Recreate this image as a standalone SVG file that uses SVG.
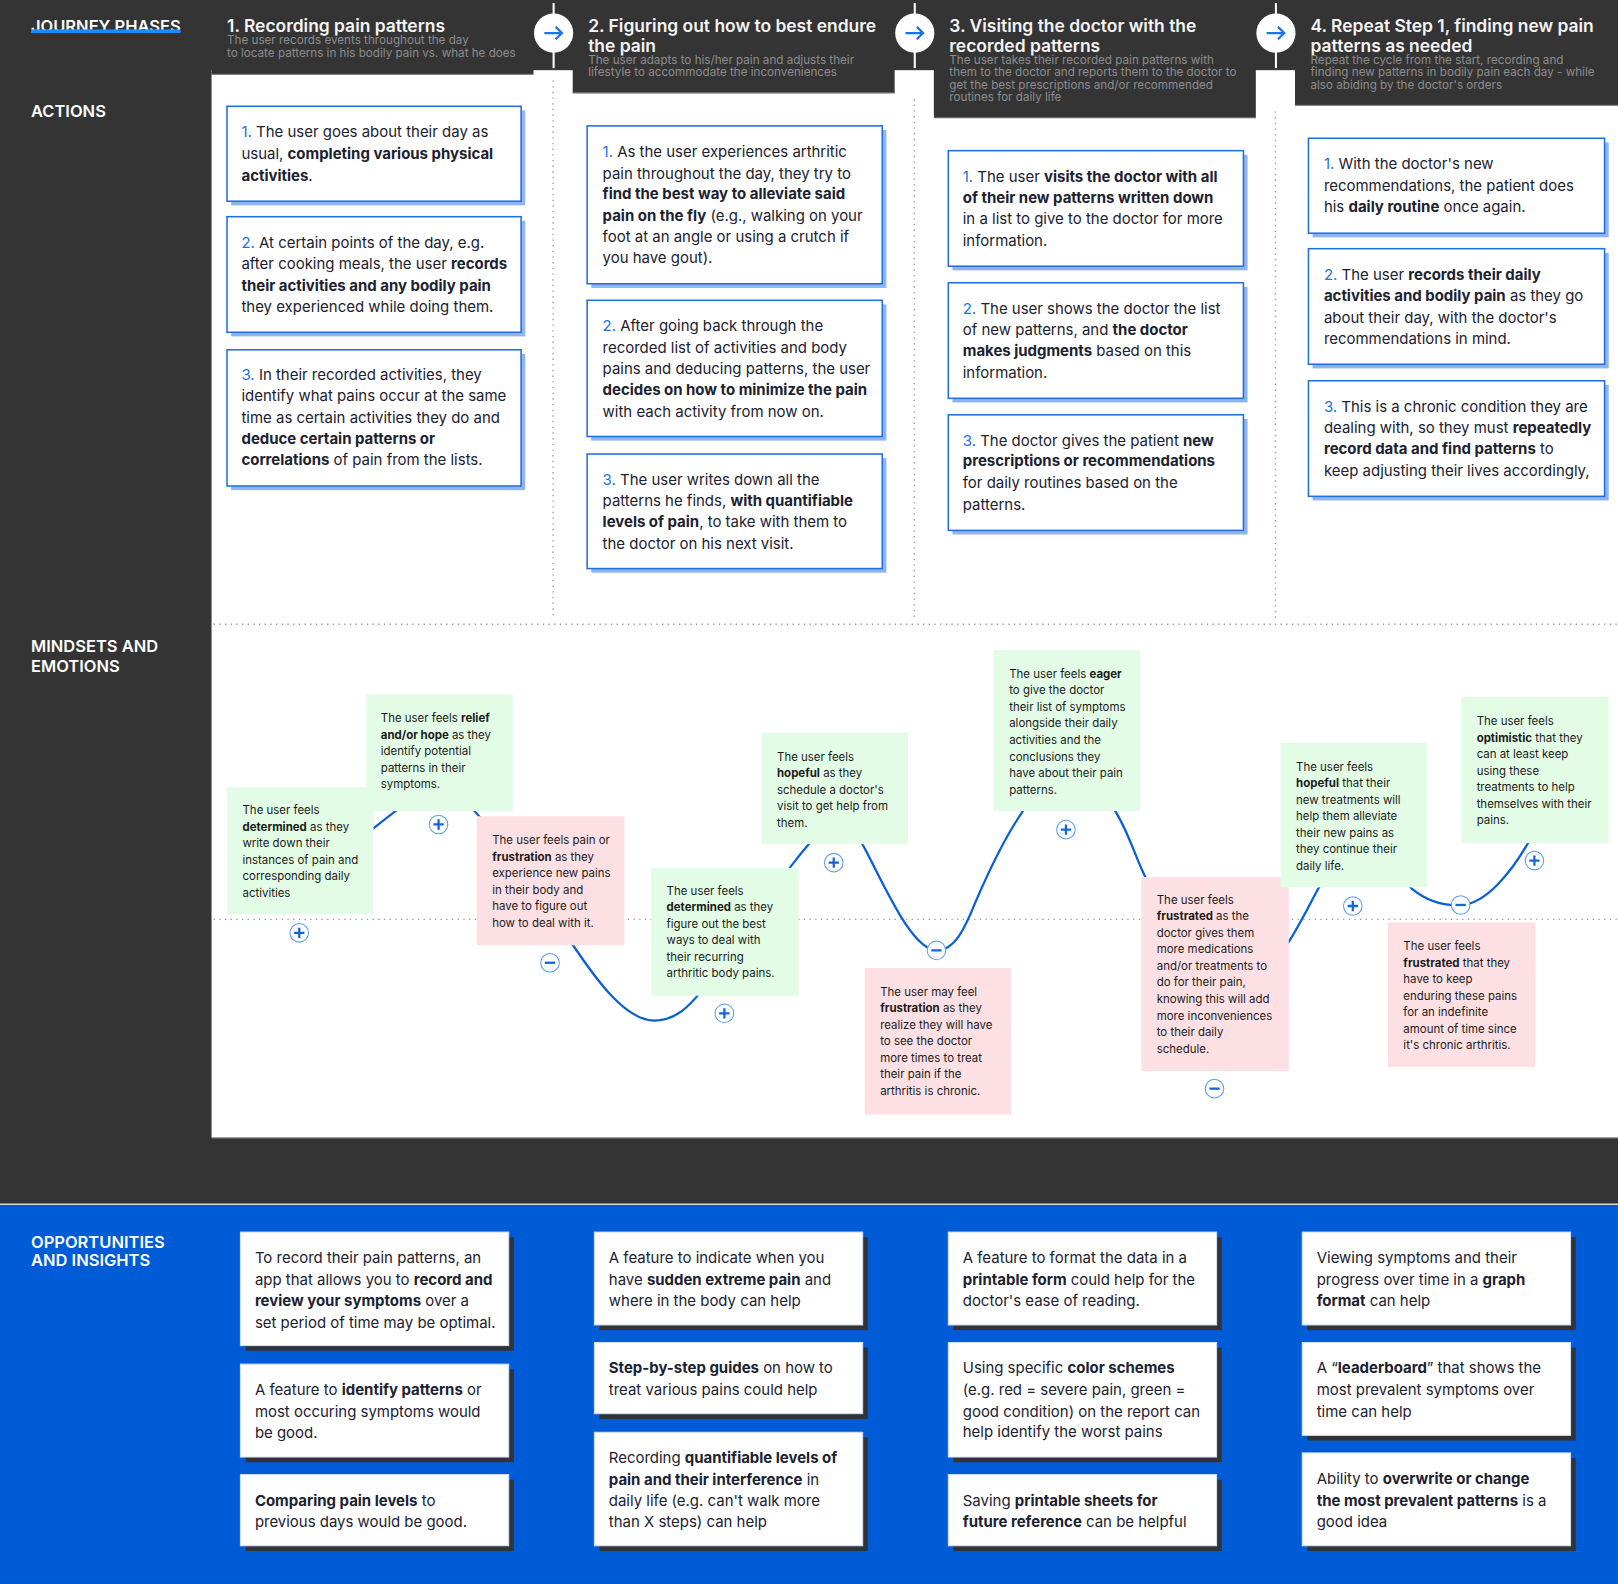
<svg xmlns="http://www.w3.org/2000/svg" width="1618" height="1584" viewBox="0 0 1618 1584">
<style>
text{font-family:Inter,"Liberation Sans",sans-serif}
.hd{font-size:16.9px;font-weight:600;fill:#f4f4f4}
.sub{font-size:11.3px;fill:#8c8c8c}
.lbl{font-size:16px;font-weight:600;fill:#fff}
.act{font-size:14.5px;fill:#1c2230}
.num{fill:#1a73e8}
.b{font-weight:700}
.emo{font-size:11.1px;fill:#1a1a1a}
.card{fill:#fff;stroke:#1f6fe0;stroke-width:1.5}
.cshadow{fill:#8fb4ee}
.green{fill:#e3fce5}
.pink{fill:#fde0e3}
.ocard{fill:#fff;stroke:#cfe0fb;stroke-width:1}
.oshadow{fill:#333}
.dot{stroke:#9a9a9a;stroke-width:1.3;stroke-dasharray:1.3 4.2;fill:none}
.pm{fill:#fff;stroke:#5b9cf0;stroke-width:1}
.pms{stroke:#1466d8;stroke-width:2.2;fill:none}
.hbox{fill:#343434}
</style>
<defs>
<g id="plus"><circle class="pm" r="9"/><path class="pms" d="M-5 0H5M0-5V5"/></g>
<g id="minus"><circle class="pm" r="9"/><path class="pms" d="M-5 0H5"/></g>
<g id="arrowc"><circle r="19" fill="#fff"/><path d="M-9 0H8M2-6L8 0L2 6" stroke="#1a73e8" stroke-width="2.2" fill="none"/></g>
</defs>
<rect width="1618" height="1584" fill="#343434"/>
<g transform="scale(1.03189)">
<!-- white panel -->
<rect x="205" y="68" width="1363" height="1034" fill="#fff"/>
<line x1="205" y1="1102.5" x2="1568" y2="1102.5" stroke="#bbb" stroke-width="1"/>
<!-- blue section -->
<rect x="0" y="1167" width="1568" height="368" fill="#005bd6"/>
<line x1="0" y1="1167" x2="1568" y2="1167" stroke="#d8d8d8" stroke-width="1.5"/>

<!-- header boxes -->
<g id="phase1">
<rect class="hbox" x="205" y="0" width="312" height="72"/>
<line x1="205" y1="72" x2="517" y2="72" stroke="#6a6a6a" stroke-width="1"/>
<text class="hd" x="220" y="31">1. Recording pain patterns</text>
<text class="sub" x="220" y="43">The user records events throughout the day</text>
<text class="sub" x="220" y="55">to locate patterns in his bodily pain vs. what he does</text>
</g>
<g id="phase2">
<rect class="hbox" x="555" y="0" width="312" height="90"/>
<line x1="555" y1="90" x2="867" y2="90" stroke="#6a6a6a" stroke-width="1"/>
<text class="hd" x="570" y="31">2. Figuring out how to best endure</text>
<text class="hd" x="570" y="50">the pain</text>
<text class="sub" x="570" y="62">The user adapts to his/her pain and adjusts their</text>
<text class="sub" x="570" y="74">lifestyle to accommodate the inconveniences</text>
</g>
<g id="phase3">
<rect class="hbox" x="905" y="0" width="312" height="114"/>
<line x1="905" y1="114" x2="1217" y2="114" stroke="#6a6a6a" stroke-width="1"/>
<text class="hd" x="920" y="31">3. Visiting the doctor with the</text>
<text class="hd" x="920" y="50">recorded patterns</text>
<text class="sub" x="920" y="62">The user takes their recorded pain patterns with</text>
<text class="sub" x="920" y="74">them to the doctor and reports them to the doctor to</text>
<text class="sub" x="920" y="86">get the best prescriptions and/or recommended</text>
<text class="sub" x="920" y="98">routines for daily life</text>
</g>
<g id="phase4">
<rect class="hbox" x="1255" y="0" width="313" height="102"/>
<line x1="1255" y1="102" x2="1568" y2="102" stroke="#6a6a6a" stroke-width="1"/>
<text class="hd" x="1270" y="31">4. Repeat Step 1, finding new pain</text>
<text class="hd" x="1270" y="50">patterns as needed</text>
<text class="sub" x="1270" y="62">Repeat the cycle from the start, recording and</text>
<text class="sub" x="1270" y="74">finding new patterns in bodily pain each day - while</text>
<text class="sub" x="1270" y="86">also abiding by the doctor's orders</text>
</g>

<!-- row labels -->
<g id="labels">
<text class="lbl" x="30" y="31">JOURNEY PHASES</text>
<rect x="30" y="28.5" width="145" height="3.5" fill="#1a8cff"/>
<text class="lbl" x="30" y="113">ACTIONS</text>
<text class="lbl" x="30" y="632">MINDSETS AND</text>
<text class="lbl" x="30" y="651">EMOTIONS</text>
<text class="lbl" x="30" y="1209">OPPORTUNITIES</text>
<text class="lbl" x="30" y="1227">AND INSIGHTS</text>
</g>

<!-- connectors / separators -->
<g id="connectors">
<line class="dot" x1="536" y1="78" x2="536" y2="600"/>
<line class="dot" x1="886" y1="96" x2="886" y2="600"/>
<line class="dot" x1="1236" y1="108" x2="1236" y2="600"/>
<line class="dot" x1="207" y1="605" x2="1568" y2="605"/>
<line class="dot" x1="207" y1="891" x2="1568" y2="891"/>
<line x1="536.5" y1="3" x2="536.5" y2="66" stroke="#fff" stroke-width="2"/>
<line x1="886.5" y1="3" x2="886.5" y2="66" stroke="#fff" stroke-width="2"/>
<line x1="1236.5" y1="3" x2="1236.5" y2="66" stroke="#fff" stroke-width="2"/>
<use href="#arrowc" x="536.5" y="32"/>
<use href="#arrowc" x="886.5" y="32"/>
<use href="#arrowc" x="1236.5" y="32"/>
<path id="emotion-curve" fill="none" stroke="#0a5fd6" stroke-width="2.2" d="M 335 826 C 350 812, 370 796, 390 781 C 410 766, 440 768, 457 783 C 475 800, 530 880, 556 917 C 575 945, 605 989, 634 989 C 655 989, 668 975, 680 960 C 720 910, 750 860, 770 835 C 785 815, 800 800, 810 800 C 825 800, 832 810, 840 826 C 860 865, 885 921, 908 921 C 925 921, 935 900, 945 875 C 960 840, 975 810, 990 788 C 1010 750, 1060 750, 1082 788 C 1095 810, 1100 830, 1110 850 C 1140 920, 1200 990, 1250 911 C 1260 895, 1270 875, 1277 862 C 1300 820, 1350 840, 1369 862 C 1385 875, 1400 878, 1416 877 C 1440 876, 1465 845, 1482 815"/>
</g>

<!-- ACTION CARDS -->
<g id="a1-1"><rect class="cshadow" x="224" y="107" width="285" height="92"/><rect class="card" x="220" y="103" width="285" height="92"/>
<text class="act" x="234" y="133"><tspan class="num">1.</tspan> The user goes about their day as</text>
<text class="act" x="234" y="154">usual, <tspan class="b">completing various physical</tspan></text>
<text class="act" x="234" y="175"><tspan class="b">activities</tspan>.</text></g>
<g id="a1-2"><rect class="cshadow" x="224" y="214" width="285" height="112"/><rect class="card" x="220" y="210" width="285" height="112"/>
<text class="act" x="234" y="240"><tspan class="num">2.</tspan> At certain points of the day, e.g.</text>
<text class="act" x="234" y="261">after cooking meals, the user <tspan class="b">records</tspan></text>
<text class="act" x="234" y="282"><tspan class="b">their activities and any bodily pain</tspan></text>
<text class="act" x="234" y="302">they experienced while doing them.</text></g>
<g id="a1-3"><rect class="cshadow" x="224" y="343" width="285" height="132"/><rect class="card" x="220" y="339" width="285" height="132"/>
<text class="act" x="234" y="368"><tspan class="num">3.</tspan> In their recorded activities, they</text>
<text class="act" x="234" y="389">identify what pains occur at the same</text>
<text class="act" x="234" y="410">time as certain activities they do and</text>
<text class="act" x="234" y="430"><tspan class="b">deduce certain patterns or</tspan></text>
<text class="act" x="234" y="451"><tspan class="b">correlations</tspan> of pain from the lists.</text></g>

<g id="a2-1"><rect class="cshadow" x="573" y="126" width="286" height="153"/><rect class="card" x="569" y="122" width="286" height="153"/>
<text class="act" x="584" y="152"><tspan class="num">1.</tspan> As the user experiences arthritic</text>
<text class="act" x="584" y="173">pain throughout the day, they try to</text>
<text class="act" x="584" y="193"><tspan class="b">find the best way to alleviate said</tspan></text>
<text class="act" x="584" y="214"><tspan class="b">pain on the fly</tspan> (e.g., walking on your</text>
<text class="act" x="584" y="235">foot at an angle or using a crutch if</text>
<text class="act" x="584" y="255">you have gout).</text></g>
<g id="a2-2"><rect class="cshadow" x="573" y="295" width="286" height="132"/><rect class="card" x="569" y="291" width="286" height="132"/>
<text class="act" x="584" y="321"><tspan class="num">2.</tspan> After going back through the</text>
<text class="act" x="584" y="342">recorded list of activities and body</text>
<text class="act" x="584" y="362">pains and deducing patterns, the user</text>
<text class="act" x="584" y="383"><tspan class="b">decides on how to minimize the pain</tspan></text>
<text class="act" x="584" y="404">with each activity from now on.</text></g>
<g id="a2-3"><rect class="cshadow" x="573" y="444" width="286" height="111"/><rect class="card" x="569" y="440" width="286" height="111"/>
<text class="act" x="584" y="470"><tspan class="num">3.</tspan> The user writes down all the</text>
<text class="act" x="584" y="490">patterns he finds, <tspan class="b">with quantifiable</tspan></text>
<text class="act" x="584" y="511"><tspan class="b">levels of pain</tspan>, to take with them to</text>
<text class="act" x="584" y="532">the doctor on his next visit.</text></g>

<g id="a3-1"><rect class="cshadow" x="923" y="150" width="286" height="112"/><rect class="card" x="919" y="146" width="286" height="112"/>
<text class="act" x="933" y="176"><tspan class="num">1.</tspan> The user <tspan class="b">visits the doctor with all</tspan></text>
<text class="act" x="933" y="197"><tspan class="b">of their new patterns written down</tspan></text>
<text class="act" x="933" y="217">in a list to give to the doctor for more</text>
<text class="act" x="933" y="238">information.</text></g>
<g id="a3-2"><rect class="cshadow" x="923" y="278" width="286" height="112"/><rect class="card" x="919" y="274" width="286" height="112"/>
<text class="act" x="933" y="304"><tspan class="num">2.</tspan> The user shows the doctor the list</text>
<text class="act" x="933" y="325">of new patterns, and <tspan class="b">the doctor</tspan></text>
<text class="act" x="933" y="345"><tspan class="b">makes judgments</tspan> based on this</text>
<text class="act" x="933" y="366">information.</text></g>
<g id="a3-3"><rect class="cshadow" x="923" y="406" width="286" height="112"/><rect class="card" x="919" y="402" width="286" height="112"/>
<text class="act" x="933" y="432"><tspan class="num">3.</tspan> The doctor gives the patient <tspan class="b">new</tspan></text>
<text class="act" x="933" y="452"><tspan class="b">prescriptions or recommendations</tspan></text>
<text class="act" x="933" y="473">for daily routines based on the</text>
<text class="act" x="933" y="494">patterns.</text></g>

<g id="a4-1"><rect class="cshadow" x="1272" y="138" width="287" height="92"/><rect class="card" x="1268" y="134" width="287" height="92"/>
<text class="act" x="1283" y="164"><tspan class="num">1.</tspan> With the doctor's new</text>
<text class="act" x="1283" y="185">recommendations, the patient does</text>
<text class="act" x="1283" y="205">his <tspan class="b">daily routine</tspan> once again.</text></g>
<g id="a4-2"><rect class="cshadow" x="1272" y="245" width="287" height="112"/><rect class="card" x="1268" y="241" width="287" height="112"/>
<text class="act" x="1283" y="271"><tspan class="num">2.</tspan> The user <tspan class="b">records their daily</tspan></text>
<text class="act" x="1283" y="292"><tspan class="b">activities and bodily pain</tspan> as they go</text>
<text class="act" x="1283" y="313">about their day, with the doctor's</text>
<text class="act" x="1283" y="333">recommendations in mind.</text></g>
<g id="a4-3"><rect class="cshadow" x="1272" y="373" width="287" height="112"/><rect class="card" x="1268" y="369" width="287" height="112"/>
<text class="act" x="1283" y="399"><tspan class="num">3.</tspan> This is a chronic condition they are</text>
<text class="act" x="1283" y="420">dealing with, so they must <tspan class="b">repeatedly</tspan></text>
<text class="act" x="1283" y="440"><tspan class="b">record data and find patterns</tspan> to</text>
<text class="act" x="1283" y="461">keep adjusting their lives accordingly,</text></g>

<!-- EMOTION NOTES -->
<g id="e1"><rect class="green" x="220" y="763" width="142" height="123"/>
<text class="emo" x="235" y="789">The user feels</text>
<text class="emo" x="235" y="805"><tspan class="b">determined</tspan> as they</text>
<text class="emo" x="235" y="821">write down their</text>
<text class="emo" x="235" y="837">instances of pain and</text>
<text class="emo" x="235" y="853">corresponding daily</text>
<text class="emo" x="235" y="869">activities</text>
<use href="#plus" x="290" y="904"/></g>
<g id="e2"><rect class="green" x="355" y="673" width="142" height="113"/>
<text class="emo" x="369" y="700">The user feels <tspan class="b">relief</tspan></text>
<text class="emo" x="369" y="716"><tspan class="b">and/or hope</tspan> as they</text>
<text class="emo" x="369" y="732">identify potential</text>
<text class="emo" x="369" y="748">patterns in their</text>
<text class="emo" x="369" y="764">symptoms.</text>
<use href="#plus" x="425" y="799"/></g>
<g id="e3"><rect class="pink" x="462" y="791" width="143" height="125"/>
<text class="emo" x="477" y="818">The user feels pain or</text>
<text class="emo" x="477" y="834"><tspan class="b">frustration</tspan> as they</text>
<text class="emo" x="477" y="850">experience new pains</text>
<text class="emo" x="477" y="866">in their body and</text>
<text class="emo" x="477" y="882">have to figure out</text>
<text class="emo" x="477" y="898">how to deal with it.</text>
<use href="#minus" x="533" y="933"/></g>
<g id="e4"><rect class="green" x="631" y="841" width="143" height="124"/>
<text class="emo" x="646" y="867">The user feels</text>
<text class="emo" x="646" y="883"><tspan class="b">determined</tspan> as they</text>
<text class="emo" x="646" y="899">figure out the best</text>
<text class="emo" x="646" y="915">ways to deal with</text>
<text class="emo" x="646" y="931">their recurring</text>
<text class="emo" x="646" y="947">arthritic body pains.</text>
<use href="#plus" x="702" y="982"/></g>
<g id="e5"><rect class="green" x="738" y="710" width="142" height="108"/>
<text class="emo" x="753" y="737">The user feels</text>
<text class="emo" x="753" y="753"><tspan class="b">hopeful</tspan> as they</text>
<text class="emo" x="753" y="769">schedule a doctor's</text>
<text class="emo" x="753" y="785">visit to get help from</text>
<text class="emo" x="753" y="801">them.</text>
<use href="#plus" x="808" y="836"/></g>
<g id="e6"><rect class="pink" x="838" y="938" width="142" height="142"/>
<text class="emo" x="853" y="965">The user may feel</text>
<text class="emo" x="853" y="981"><tspan class="b">frustration</tspan> as they</text>
<text class="emo" x="853" y="997">realize they will have</text>
<text class="emo" x="853" y="1013">to see the doctor</text>
<text class="emo" x="853" y="1029">more times to treat</text>
<text class="emo" x="853" y="1045">their pain if the</text>
<text class="emo" x="853" y="1061">arthritis is chronic.</text>
<use href="#minus" x="907.5" y="921"/></g>
<g id="e7"><rect class="green" x="963" y="630" width="142" height="156"/>
<text class="emo" x="978" y="657">The user feels <tspan class="b">eager</tspan></text>
<text class="emo" x="978" y="673">to give the doctor</text>
<text class="emo" x="978" y="689">their list of symptoms</text>
<text class="emo" x="978" y="705">alongside their daily</text>
<text class="emo" x="978" y="721">activities and the</text>
<text class="emo" x="978" y="737">conclusions they</text>
<text class="emo" x="978" y="753">have about their pain</text>
<text class="emo" x="978" y="769">patterns.</text>
<use href="#plus" x="1033" y="804"/></g>
<g id="e8"><rect class="pink" x="1106" y="850" width="143" height="188"/>
<text class="emo" x="1121" y="876">The user feels</text>
<text class="emo" x="1121" y="892"><tspan class="b">frustrated</tspan> as the</text>
<text class="emo" x="1121" y="908">doctor gives them</text>
<text class="emo" x="1121" y="924">more medications</text>
<text class="emo" x="1121" y="940">and/or treatments to</text>
<text class="emo" x="1121" y="956">do for their pain,</text>
<text class="emo" x="1121" y="972">knowing this will add</text>
<text class="emo" x="1121" y="988">more inconveniences</text>
<text class="emo" x="1121" y="1004">to their daily</text>
<text class="emo" x="1121" y="1020">schedule.</text>
<use href="#minus" x="1177" y="1055"/></g>
<g id="e9"><rect class="green" x="1241" y="720" width="142" height="140"/>
<text class="emo" x="1256" y="747">The user feels</text>
<text class="emo" x="1256" y="763"><tspan class="b">hopeful</tspan> that their</text>
<text class="emo" x="1256" y="779">new treatments will</text>
<text class="emo" x="1256" y="795">help them alleviate</text>
<text class="emo" x="1256" y="811">their new pains as</text>
<text class="emo" x="1256" y="827">they continue their</text>
<text class="emo" x="1256" y="843">daily life.</text>
<use href="#plus" x="1311" y="878"/></g>
<g id="e10"><rect class="pink" x="1345" y="894" width="143" height="140"/>
<text class="emo" x="1360" y="921">The user feels</text>
<text class="emo" x="1360" y="937"><tspan class="b">frustrated</tspan> that they</text>
<text class="emo" x="1360" y="953">have to keep</text>
<text class="emo" x="1360" y="969">enduring these pains</text>
<text class="emo" x="1360" y="985">for an indefinite</text>
<text class="emo" x="1360" y="1001">amount of time since</text>
<text class="emo" x="1360" y="1017">it's chronic arthritis.</text>
<use href="#minus" x="1415.5" y="877"/></g>
<g id="e11"><rect class="green" x="1416" y="675" width="143" height="142"/>
<text class="emo" x="1431" y="703">The user feels</text>
<text class="emo" x="1431" y="719"><tspan class="b">optimistic</tspan> that they</text>
<text class="emo" x="1431" y="735">can at least keep</text>
<text class="emo" x="1431" y="751">using these</text>
<text class="emo" x="1431" y="767">treatments to help</text>
<text class="emo" x="1431" y="783">themselves with their</text>
<text class="emo" x="1431" y="799">pains.</text>
<use href="#plus" x="1487" y="834"/></g>

<!-- OPPORTUNITY CARDS -->
<g id="o1-1"><rect class="oshadow" x="238" y="1199" width="260" height="110"/><rect class="ocard" x="233" y="1194" width="260" height="110"/>
<text class="act" x="247" y="1224">To record their pain patterns, an</text>
<text class="act" x="247" y="1245">app that allows you to <tspan class="b">record and</tspan></text>
<text class="act" x="247" y="1266"><tspan class="b">review your symptoms</tspan> over a</text>
<text class="act" x="247" y="1287">set period of time may be optimal.</text></g>
<g id="o1-2"><rect class="oshadow" x="238" y="1327" width="260" height="90"/><rect class="ocard" x="233" y="1322" width="260" height="90"/>
<text class="act" x="247" y="1352">A feature to <tspan class="b">identify patterns</tspan> or</text>
<text class="act" x="247" y="1373">most occuring symptoms would</text>
<text class="act" x="247" y="1394">be good.</text></g>
<g id="o1-3"><rect class="oshadow" x="238" y="1434" width="260" height="69"/><rect class="ocard" x="233" y="1429" width="260" height="69"/>
<text class="act" x="247" y="1459"><tspan class="b">Comparing pain levels</tspan> to</text>
<text class="act" x="247" y="1480">previous days would be good.</text></g>

<g id="o2-1"><rect class="oshadow" x="581" y="1199" width="260" height="90"/><rect class="ocard" x="576" y="1194" width="260" height="90"/>
<text class="act" x="590" y="1224">A feature to indicate when you</text>
<text class="act" x="590" y="1245">have <tspan class="b">sudden extreme pain</tspan> and</text>
<text class="act" x="590" y="1266">where in the body can help</text></g>
<g id="o2-2"><rect class="oshadow" x="581" y="1306" width="260" height="69"/><rect class="ocard" x="576" y="1301" width="260" height="69"/>
<text class="act" x="590" y="1331"><tspan class="b">Step-by-step guides</tspan> on how to</text>
<text class="act" x="590" y="1352">treat various pains could help</text></g>
<g id="o2-3"><rect class="oshadow" x="581" y="1393" width="260" height="110"/><rect class="ocard" x="576" y="1388" width="260" height="110"/>
<text class="act" x="590" y="1418">Recording <tspan class="b">quantifiable levels of</tspan></text>
<text class="act" x="590" y="1439"><tspan class="b">pain and their interference</tspan> in</text>
<text class="act" x="590" y="1459">daily life (e.g. can't walk more</text>
<text class="act" x="590" y="1480">than X steps) can help</text></g>

<g id="o3-1"><rect class="oshadow" x="924" y="1199" width="260" height="90"/><rect class="ocard" x="919" y="1194" width="260" height="90"/>
<text class="act" x="933" y="1224">A feature to format the data in a</text>
<text class="act" x="933" y="1245"><tspan class="b">printable form</tspan> could help for the</text>
<text class="act" x="933" y="1266">doctor's ease of reading.</text></g>
<g id="o3-2"><rect class="oshadow" x="924" y="1306" width="260" height="111"/><rect class="ocard" x="919" y="1301" width="260" height="111"/>
<text class="act" x="933" y="1331">Using specific <tspan class="b">color schemes</tspan></text>
<text class="act" x="933" y="1352">(e.g. red = severe pain, green =</text>
<text class="act" x="933" y="1373">good condition) on the report can</text>
<text class="act" x="933" y="1393">help identify the worst pains</text></g>
<g id="o3-3"><rect class="oshadow" x="924" y="1434" width="260" height="69"/><rect class="ocard" x="919" y="1429" width="260" height="69"/>
<text class="act" x="933" y="1459">Saving <tspan class="b">printable sheets for</tspan></text>
<text class="act" x="933" y="1480"><tspan class="b">future reference</tspan> can be helpful</text></g>

<g id="o4-1"><rect class="oshadow" x="1267" y="1199" width="260" height="90"/><rect class="ocard" x="1262" y="1194" width="260" height="90"/>
<text class="act" x="1276" y="1224">Viewing symptoms and their</text>
<text class="act" x="1276" y="1245">progress over time in a <tspan class="b">graph</tspan></text>
<text class="act" x="1276" y="1266"><tspan class="b">format</tspan> can help</text></g>
<g id="o4-2"><rect class="oshadow" x="1267" y="1306" width="260" height="90"/><rect class="ocard" x="1262" y="1301" width="260" height="90"/>
<text class="act" x="1276" y="1331">A “<tspan class="b">leaderboard</tspan>” that shows the</text>
<text class="act" x="1276" y="1352">most prevalent symptoms over</text>
<text class="act" x="1276" y="1373">time can help</text></g>
<g id="o4-3"><rect class="oshadow" x="1267" y="1413" width="260" height="90"/><rect class="ocard" x="1262" y="1408" width="260" height="90"/>
<text class="act" x="1276" y="1438">Ability to <tspan class="b">overwrite or change</tspan></text>
<text class="act" x="1276" y="1459"><tspan class="b">the most prevalent patterns</tspan> is a</text>
<text class="act" x="1276" y="1480">good idea</text></g>
</g>
</svg>
